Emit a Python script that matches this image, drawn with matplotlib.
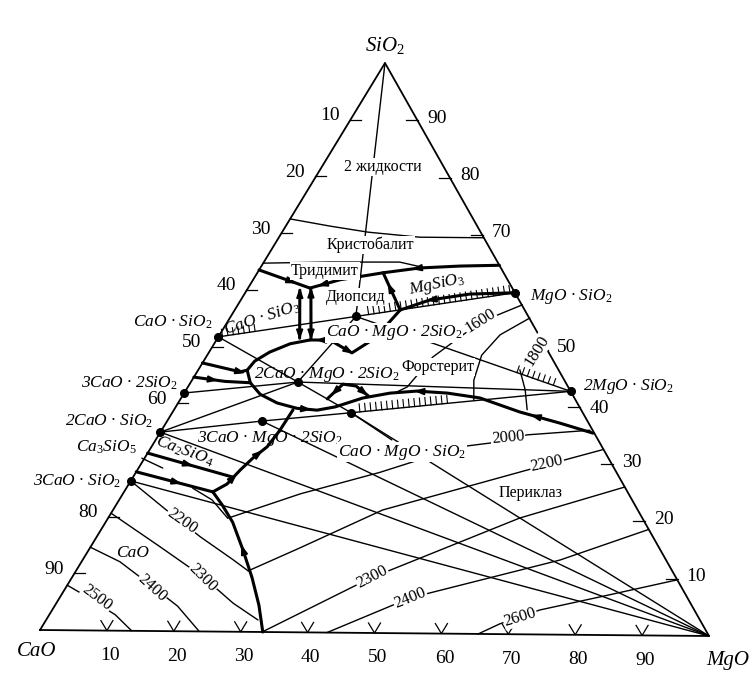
import numpy as np
import matplotlib
matplotlib.use("Agg")
import matplotlib.pyplot as plt
from matplotlib.patches import Polygon

plt.rcParams['font.family'] = ['Liberation Serif', 'DejaVu Serif']
plt.rcParams['mathtext.fontset'] = 'custom'
plt.rcParams['mathtext.rm'] = 'Liberation Serif'
plt.rcParams['mathtext.it'] = 'Liberation Serif:italic'
plt.rcParams['mathtext.default'] = 'it'

# ================= DATA (wt %: MgO, SiO2 ; CaO = rest) =================
left_ticks = [10, 20, 30, 40, 50, 60, 80, 90]        # CaO %, CaO-SiO2 side
right_ticks = [90, 80, 70, 50, 40, 30, 20, 10]       # SiO2 %, MgO-SiO2 side
bottom_ticks = [10, 20, 30, 40, 50, 60, 70, 80, 90]  # MgO %, CaO-MgO side

compound_names = ["CS", "C3S2", "C2S", "C3S", "MS", "M2S", "CMS2", "C2MS2", "C3MS2", "CMS"]
compound_mgo = [0, 0, 0, 0, 40.1, 57.3, 18.6, 15.9, 14.1, 26.6]
compound_sio2 = [51.7, 41.8, 34.9, 26.3, 59.9, 42.7, 55.5, 43.9, 37.0, 38.6]

tie_lines = [("CS", "CMS2"), ("CMS2", "MS"), ("CMS2", "M2S"), ("CMS2", "C2MS2"),
             ("CS", "C2MS2"), ("C3S2", "C2MS2"), ("C2S", "C2MS2"), ("C2S", "C3MS2"),
             ("C3MS2", "CMS"), ("C2MS2", "M2S"), ("CMS", "M2S"), ("C2MS2", "CMS")]
periclase_ties = ["C3S", "C2S", "C3MS2", "CMS"]

# thin curves
immiscibility = [(0, 72.5), (6.6, 71.3), (12.8, 70.3), (20.9, 69.5), (30.5, 69.5)]
cristobalite_tridymite = [(0, 64.7), (9.8, 65.0), (20.2, 65.1), (23.3, 64.4), (23.7, 64.1)]
silica_diopside = [(0, 100), (18.6, 55.5)]
iso_2500 = [(0, 7.9), (2.6, 6.6), (9.8, 2.8), (13.7, 0)]
iso_2400 = [(0, 14.6), (5.7, 12.1), (12.3, 8.1), (18.3, 4.4), (23.8, 0)]
iso_2300 = [(0, 20.6), (10.3, 14.8), (19.4, 9.6), (26.3, 5.0), (31.5, 2.1)]
iso_2200 = [(0, 26.3), (8.0, 21.2), (15.4, 16.6), (22.4, 12.6), (25.6, 10.7)]
iso_2200p = [(25.6, 10.7), (31.2, 14.8), (40.1, 21.6), (57.9, 28.8), (67.3, 32.5)]
iso_2300p = [(33.2, 0), (44.4, 9.6), (61.2, 20.4), (74.0, 26.0)]
iso_2400p = [(42.9, 0), (52.1, 6.2), (71.0, 13.1), (81.4, 18.6)]
iso_2600p = [(65.5, 0), (67.8, 1.8), (72.5, 4.3), (80.3, 6.7), (90.2, 9.8)]
iso_2000 = [(9.9, 25.1), (13.8, 23.1), (17.8, 19.9), (26.4, 24.3), (36.3, 28.2),
            (45.9, 32.8), (50.0, 33.5), (54.8, 35.0), (63.7, 35.9)]
iso_1600 = [(42.3, 57.8), (37.6, 54.7), (33.7, 48.5), (32.6, 43.2), (31.5, 42.3)]
iso_1700 = [(44.6, 55.5), (41.7, 52.5), (40.8, 48.9), (41.9, 44.5), (43.7, 41.0)]
iso_1800 = [(47.8, 46.4), (50.4, 42.9), (52.5, 39.4)]
leader_c3s = [(-0.4, 30.3), (3.6, 28.6)]
leader_cms = [(26.6, 38.6), (35.1, 33.9)]

# thick boundary curves
bnd_b1 = [(0, 63.5), (9.2, 60.4)]
bnd_tridymite = [(35.3, 64.7), (29.5, 64.5), (23.7, 64.1), (18.7, 63.2), (12.9, 61.9), (9.2, 60.4)]
bnd_diop_trid = [(24.6, 56.7), (18.7, 63.2)]
bnd_protoen = [(24.6, 56.7), (28.1, 58.5), (33.5, 59.6), (40.1, 59.9)]
bnd_diop_low = [(13.9, 51.3), (16.9, 51.3), (20.3, 49.6), (21.3, 49.1), (23.4, 51.7), (24.6, 56.7)]
bnd_wollast_1 = [(7.9, 60.0), (12.2, 51.6)]
bnd_wollast_2 = [(9.5, 60.1), (13.9, 51.6)]
bnd_akerm = [(13.9, 51.3), (11.3, 50.6), (9.0, 49.1), (7.6, 47.5), (7.3, 45.9), (8.9, 43.7),
             (11.4, 41.7), (14.7, 40.2), (18.1, 39.3), (21.3, 39.0), (23.7, 39.6), (27.0, 41.2),
             (30.6, 42.1), (34.4, 42.5), (39.1, 42.2), (44.4, 41.4), (51.6, 39.0), (58.6, 37.1),
             (64.4, 35.4)]
bnd_mont = [(21.8, 41.0), (22.8, 43.6), (24.9, 43.3), (27.6, 41.6)]
bnd_c3s2 = [(0, 47.1), (6.4, 45.6), (7.3, 45.9)]
bnd_c2s_up = [(0, 44.6), (5.0, 43.9), (8.9, 43.7)]
bnd_c3s_c2s = [(0, 31.2), (14.9, 27.1)]
bnd_cao_c3s = [(0, 27.9), (13.2, 24.5)]
bnd_c2s_per = [(13.2, 24.5), (14.6, 25.9), (15.3, 28.4), (16.1, 30.5), (17.2, 32.5), (17.6, 35.5), (17.7, 39.0)]
bnd_cao_per = [(13.2, 24.5), (15.8, 22.2), (18.9, 19.2), (22.9, 14.4), (26.8, 9.5), (30.3, 4.7), (33.3, 0)]

# ================= GEOMETRY =================
V_CAO = np.array([40.0, 630.0])
V_MGO = np.array([709.0, 636.0])
V_SIO2 = np.array([385.0, 63.0])


def tern(m, s):
    m = np.asarray(m, float) / 100.0
    s = np.asarray(s, float) / 100.0
    x = V_CAO[0] + m * (V_MGO[0] - V_CAO[0]) + s * (V_SIO2[0] - V_CAO[0])
    y = V_CAO[1] + m * (V_MGO[1] - V_CAO[1]) + s * (V_SIO2[1] - V_CAO[1])
    return x, y


def pts_xy(pts):
    a = np.array(pts, float)
    return tern(a[:, 0], a[:, 1])


comp = {n: (m, s) for n, m, s in zip(compound_names, compound_mgo, compound_sio2)}

fig = plt.figure(figsize=(7.52, 6.79), dpi=100)
ax = fig.add_axes([0, 0, 1, 1])
ax.set_xlim(0, 752)
ax.set_ylim(679, 0)
ax.axis('off')

THIN = 1.0
THICK = 2.2


def line(pts, lw=THIN, **kw):
    x, y = pts_xy(pts)
    ax.plot(x, y, color='k', lw=lw, solid_capstyle='round', solid_joinstyle='round', **kw)


def poly_at(x, y, frac):
    seg = np.hypot(np.diff(x), np.diff(y))
    cum = np.concatenate([[0], np.cumsum(seg)])
    L = cum[-1] * frac
    i = min(np.searchsorted(cum, L) - 1, len(seg) - 1)
    i = max(i, 0)
    t = (L - cum[i]) / seg[i]
    px = x[i] + t * (x[i + 1] - x[i])
    py = y[i] + t * (y[i + 1] - y[i])
    d = np.array([x[i + 1] - x[i], y[i + 1] - y[i]]) / seg[i]
    return np.array([px, py]), d


def arrow(pts, frac, direction=1, size=5.5):
    x, y = pts_xy(pts)
    p, d = poly_at(x, y, frac)
    d = d * direction
    n = np.array([-d[1], d[0]])
    tip = p + d * size
    b1 = p - d * size * 0.6 + n * size * 0.55
    b2 = p - d * size * 0.6 - n * size * 0.55
    ax.add_patch(Polygon([tip, b1, b2], closed=True, color='k', zorder=5))


def hatch(pts, f0, f1, spacing=5.5, length=7, side=1):
    x, y = pts_xy(pts)
    seg = np.hypot(np.diff(x), np.diff(y))
    total = seg.sum()
    fr = np.arange(f0 * total, f1 * total, spacing) / total
    for f in fr:
        p, d = poly_at(x, y, f)
        n = np.array([d[1], -d[0]]) * side
        q = p + n * length
        ax.plot([p[0], q[0]], [p[1], q[1]], color='k', lw=0.8)


# triangle outline
tri_x, tri_y = tern([0, 100, 0, 0], [0, 0, 100, 0])
ax.plot(tri_x, tri_y, color='k', lw=1.3)

# ticks
for v in left_ticks:
    x, y = tern(0, 100 - v)
    ax.plot([x - 1, x + 10], [y, y], color='k', lw=0.9)
    ax.text(x - 11, y - 4, str(v), ha='right', va='center', fontsize=14)
for v in right_ticks:
    x, y = tern(100 - v, v)
    ax.plot([x + 1, x - 11], [y, y], color='k', lw=0.9)
    ax.text(x + 10, y + (2 if v == 40 else -2), str(v), ha='left', va='center', fontsize=14)
for v in bottom_ticks:
    x, y = tern(v, 0)
    ax.plot([x - 6, x, x + 6], [y - 10, y, y - 10], color='k', lw=0.9)
    ax.text(x + 3, y + 25, str(v), ha='center', va='center', fontsize=14)

# thin curves
for c in [immiscibility, cristobalite_tridymite, silica_diopside, iso_2500, iso_2400,
          iso_2300, iso_2200, iso_2200p, iso_2300p, iso_2400p, iso_2600p, iso_2000,
          iso_1600, iso_1700, iso_1800, leader_c3s, leader_cms]:
    line(c)
for a, b in tie_lines:
    line([comp[a], comp[b]])
for a in periclase_ties:
    line([comp[a], (100, 0)])

# thick boundaries
for c in [bnd_b1, bnd_tridymite, bnd_diop_trid, bnd_protoen, bnd_diop_low, bnd_wollast_1,
          bnd_wollast_2, bnd_akerm, bnd_mont, bnd_c3s2, bnd_c2s_up, bnd_c3s_c2s, bnd_cao_c3s,
          bnd_c2s_per, bnd_cao_per]:
    line(c, lw=THICK)

# arrows
arrow(bnd_b1, 0.6, 1)
arrow(bnd_tridymite, 0.42, 1)
arrow(bnd_tridymite, 0.92, 1)
arrow(bnd_diop_trid, 0.55, 1)
arrow(bnd_protoen, 0.3, -1)
arrow(bnd_diop_low, 0.12, -1)
arrow(bnd_diop_low, 0.36, 1)
arrow(bnd_diop_low, 0.68, 1)
for w in [bnd_wollast_1, bnd_wollast_2]:
    arrow(w, 0.1, -1)
    arrow(w, 0.88, 1)
arrow(bnd_akerm, 0.33, 1)
arrow(bnd_akerm, 0.6, -1)
arrow(bnd_akerm, 0.87, -1)
arrow(bnd_mont, 0.25, -1)
arrow(bnd_mont, 0.85, 1)
arrow(bnd_c3s2, 0.8, 1)
arrow(bnd_c2s_up, 0.3, 1)
arrow(bnd_c3s_c2s, 0.45, 1)
arrow(bnd_cao_c3s, 0.5, 1)
arrow(bnd_c2s_per, 0.2, 1)
arrow(bnd_c2s_per, 0.5, 1)
arrow(bnd_cao_per, 0.45, -1)

# hatches
hatch([comp["CS"], comp["CMS2"]], 0.03, 0.28, length=7, side=1)
hatch([comp["CMS2"], comp["MS"]], 0.08, 0.97, length=8, side=1)
hatch([comp["CMS"], comp["M2S"]], 0.04, 0.45, length=8, side=1)
hatch([comp["CMS2"], comp["M2S"]], 0.75, 0.93, length=7, side=1)

# compound dots
cx, cy = tern(compound_mgo, compound_sio2)
ax.plot(cx, cy, 'o', color='k', ms=5.5, zorder=6)

# labels
big = dict(fontsize=15, style='italic')
ax.text(385, 45, 'SiO$_2$', ha='center', va='center', **big)
ax.text(37, 652, 'CaO', ha='center', va='center', **big)
ax.text(728, 661, 'MgO', ha='center', va='center', **big)

fml = dict(fontsize=12.5, style='italic')
wb = dict(boxstyle='square,pad=0.05', fc='white', ec='none')
ax.text(212, 322, 'CaO · SiO$_2$', ha='right', va='center', **fml)
ax.text(178, 383, '3CaO · 2SiO$_2$', ha='right', va='center', **fml)
ax.text(153, 421, '2CaO · SiO$_2$', ha='right', va='center', **fml)
ax.text(137, 447, 'Ca$_3$SiO$_5$', ha='right', va='center', **fml)
ax.text(121, 481, '3CaO · SiO$_2$', ha='right', va='center', **fml)
ax.text(185, 451, 'Ca$_2$SiO$_4$', ha='center', va='center', rotation=-20, **fml)
ax.text(262, 318, 'CaO · SiO$_3$', ha='center', va='center', rotation=18, **fml)
ax.text(530, 296, 'MgO · SiO$_2$', ha='left', va='center', **fml)
ax.text(583, 386, '2MgO · SiO$_2$', ha='left', va='center', **fml)
ax.text(394, 333, 'CaO · MgO · 2SiO$_2$', ha='center', va='center', bbox=wb, zorder=7, **fml)
ax.text(327, 374, '2CaO · MgO · 2SiO$_2$', ha='center', va='center', **fml)
ax.text(270, 439, '3CaO · MgO · 2SiO$_2$', ha='center', va='center', **fml)
ax.text(402, 452, 'CaO · MgO · SiO$_2$', ha='center', va='center', bbox=wb, zorder=7, **fml)
ax.text(437, 285, 'MgSiO$_3$', ha='center', va='center', rotation=12, **fml)
ax.text(132, 553, 'CaO', ha='center', va='center', **fml)

ru = dict(fontsize=11.5)
for t, x, y in [('2 жидкости', 383, 167), ('Кристобалит', 370, 245), ('Тридимит', 325, 271),
                ('Диопсид', 356, 297), ('Форстерит', 438, 367), ('Периклаз', 531, 493)]:
    ax.text(x, y, t, ha='center', va='center', bbox=wb, zorder=7, **ru)

iso = dict(fontsize=12)
for t, x, y, r in [('2500', 97, 598, -37), ('2400', 152, 588, -42), ('2300', 203, 578, -45),
                   ('2200', 182, 521, -35), ('2300', 372, 577, 27), ('2400', 410, 598, 22),
                   ('2600', 520, 617, 17), ('2200', 547, 464, 12), ('2000', 508, 438, 5),
                   ('1600', 480, 321, 32), ('1800', 537, 351, 58)]:
    ax.text(x, y, t, ha='center', va='center', rotation=r, bbox=wb, zorder=7, **iso)

fig.savefig('out.png', dpi=100)
